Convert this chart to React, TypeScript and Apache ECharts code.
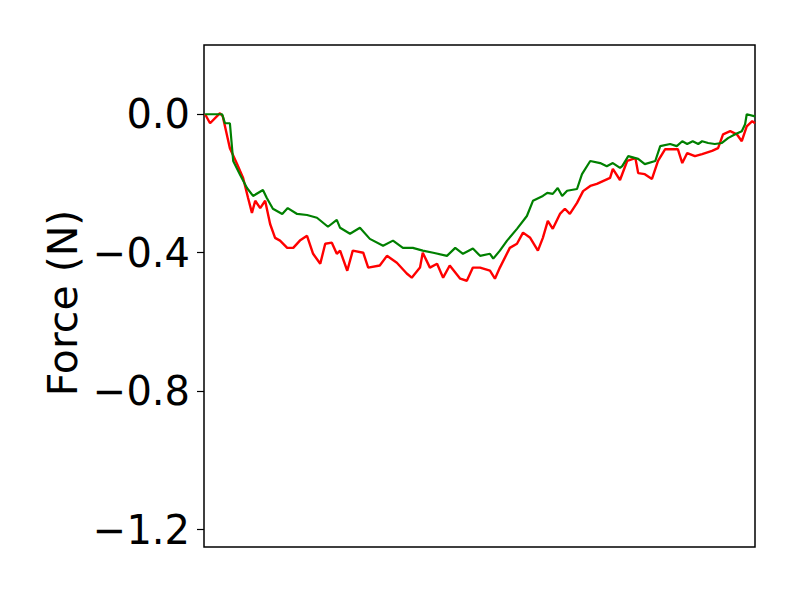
import React, { useEffect, useRef } from "react";
import * as echarts from "echarts";

const redTime = [0.02, 0.11, 0.29, 0.34, 0.47, 0.6, 0.71, 0.8, 0.87, 0.93, 1.02, 1.11, 1.2, 1.29, 1.38, 1.51, 1.62, 1.74, 1.87, 1.98, 2.11, 2.2, 2.32, 2.41, 2.47, 2.6, 2.7, 2.89, 2.98, 3.19, 3.32, 3.5, 3.68, 3.77, 3.92, 3.97, 4.1, 4.23, 4.34, 4.46, 4.65, 4.77, 4.88, 5.01, 5.19, 5.28, 5.37, 5.55, 5.68, 5.79, 5.92, 6.06, 6.15, 6.24, 6.33, 6.46, 6.55, 6.64, 6.77, 6.88, 7.01, 7.13, 7.24, 7.37, 7.42, 7.55, 7.68, 7.83, 7.88, 8.0, 8.13, 8.24, 8.37, 8.6, 8.68, 8.77, 8.91, 9.04, 9.22, 9.33, 9.42, 9.55, 9.67, 9.76, 9.85, 9.95, 10.0];
const redForce = [0, -0.026, 0.003, -0.006, -0.098, -0.144, -0.184, -0.242, -0.285, -0.25, -0.271, -0.25, -0.317, -0.357, -0.365, -0.386, -0.386, -0.365, -0.351, -0.403, -0.432, -0.374, -0.371, -0.403, -0.394, -0.452, -0.394, -0.4, -0.443, -0.437, -0.409, -0.429, -0.46, -0.472, -0.443, -0.4, -0.443, -0.432, -0.472, -0.437, -0.475, -0.481, -0.443, -0.443, -0.452, -0.475, -0.443, -0.386, -0.374, -0.342, -0.357, -0.394, -0.357, -0.308, -0.331, -0.288, -0.273, -0.288, -0.256, -0.222, -0.207, -0.201, -0.193, -0.184, -0.158, -0.19, -0.135, -0.127, -0.17, -0.173, -0.187, -0.135, -0.101, -0.101, -0.141, -0.112, -0.121, -0.115, -0.106, -0.098, -0.058, -0.049, -0.058, -0.078, -0.035, -0.02, -0.026];

const greenTime = [0.02, 0.33, 0.38, 0.47, 0.53, 0.65, 0.78, 0.89, 1.07, 1.14, 1.25, 1.42, 1.52, 1.69, 1.87, 2.05, 2.25, 2.41, 2.47, 2.65, 2.83, 3.01, 3.25, 3.43, 3.61, 3.79, 3.97, 4.16, 4.41, 4.56, 4.7, 4.88, 5.01, 5.19, 5.25, 5.37, 5.5, 5.68, 5.86, 5.97, 6.15, 6.23, 6.33, 6.42, 6.5, 6.59, 6.77, 6.86, 7.01, 7.19, 7.31, 7.42, 7.55, 7.59, 7.7, 7.88, 8.0, 8.19, 8.28, 8.46, 8.58, 8.68, 8.77, 8.87, 8.97, 9.04, 9.15, 9.27, 9.4, 9.51, 9.64, 9.76, 9.82, 9.85, 10.0];
const greenForce = [0, 0, -0.026, -0.026, -0.135, -0.173, -0.213, -0.236, -0.219, -0.242, -0.273, -0.288, -0.271, -0.288, -0.291, -0.299, -0.325, -0.305, -0.328, -0.345, -0.328, -0.36, -0.38, -0.365, -0.386, -0.386, -0.394, -0.4, -0.409, -0.386, -0.403, -0.388, -0.409, -0.403, -0.417, -0.394, -0.365, -0.331, -0.294, -0.25, -0.236, -0.227, -0.23, -0.213, -0.236, -0.221, -0.216, -0.173, -0.135, -0.141, -0.15, -0.141, -0.155, -0.15, -0.121, -0.129, -0.144, -0.135, -0.092, -0.086, -0.092, -0.078, -0.086, -0.078, -0.086, -0.078, -0.083, -0.086, -0.083, -0.069, -0.058, -0.049, -0.029, 0, -0.006];

const yTicks = [-1.2, -0.8, -0.4, 0.0];
const yLabel = "Force (N)";

const FONT = "DejaVu Sans";

export default function App() {
  const ref = useRef<HTMLDivElement>(null);
  useEffect(() => {
    if (!ref.current) return;
    const chart = echarts.init(ref.current, null, { renderer: "svg" });
    const fmt = (v: number) => (v < 0 ? "\u2212" + Math.abs(v).toFixed(1) : v.toFixed(1));
    chart.setOption({
      animation: false,
      backgroundColor: "#ffffff",
      grid: {
        left: 204,
        right: 45,
        top: 45,
        bottom: 53,
        show: true,
        borderColor: "#000000",
        borderWidth: 1.5,
        backgroundColor: "transparent",
      },
      xAxis: {
        type: "value",
        min: 0,
        max: 10,
        axisLine: { show: false },
        axisTick: { show: false },
        axisLabel: { show: false },
        splitLine: { show: false },
      },
      yAxis: {
        type: "value",
        min: -1.25,
        max: 0.2,
        axisLine: { show: false },
        splitLine: { show: false },
        axisTick: {
          show: true,
          inside: false,
          length: 7,
          customValues: yTicks,
          lineStyle: { color: "#000000", width: 1.2 },
        },
        axisLabel: {
          show: true,
          customValues: yTicks,
          margin: 14,
          fontFamily: FONT,
          fontSize: 40,
          color: "#000000",
          formatter: (v: number) => fmt(v),
        },
      },
      graphic: [
        {
          type: "text",
          x: 63,
          y: 303,
          rotation: Math.PI / 2,
          style: {
            text: yLabel,
            fontFamily: FONT,
            fontSize: 41,
            fill: "#000000",
            align: "center",
            verticalAlign: "middle",
          },
        },
      ],
      series: [
        {
          type: "line",
          data: redTime.map((t, i) => [t, redForce[i]]),
          showSymbol: false,
          lineStyle: { color: "#ff0000", width: 2.4 },
          z: 2,
        },
        {
          type: "line",
          data: greenTime.map((t, i) => [t, greenForce[i]]),
          showSymbol: false,
          lineStyle: { color: "#008000", width: 2.2 },
          z: 3,
        },
      ],
    });
    return () => chart.dispose();
  }, []);
  return (
    <div
      ref={ref}
      style={{ position: "fixed", left: 0, top: 0, width: 800, height: 600 }}
    />
  );
}
